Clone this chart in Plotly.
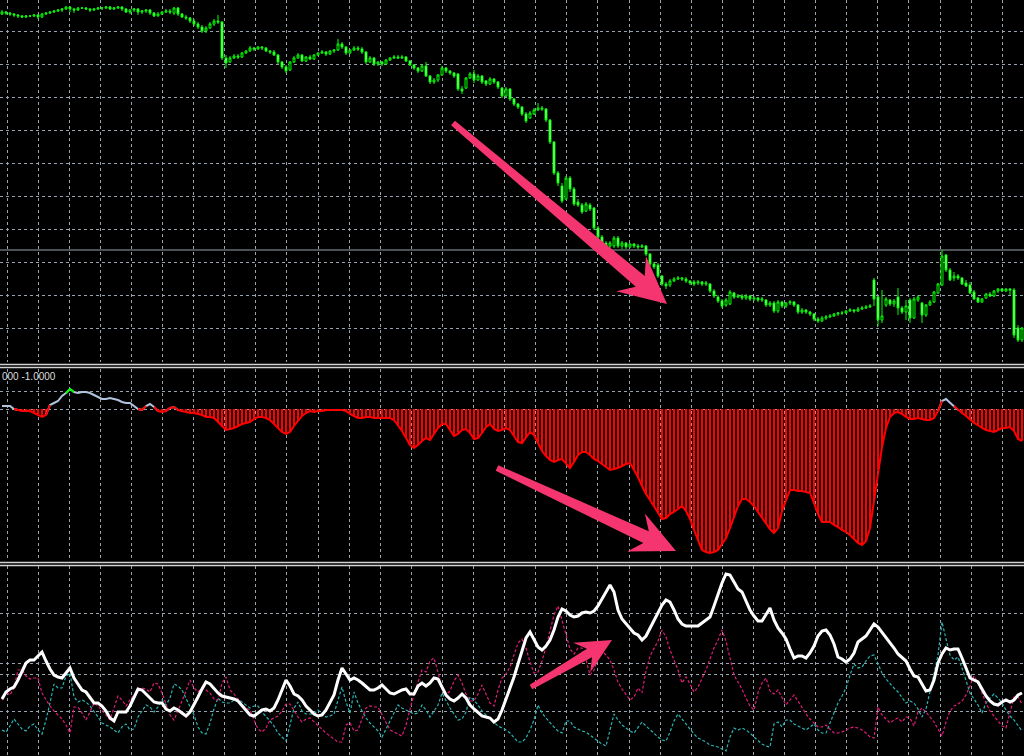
import math
import plotly.graph_objects as go

# ---------------- data ----------------
# Pane 1: candles (price units, arbitrary scale)
candle_open = [
    386, 388, 387, 386, 385, 384, 383, 384, 384, 385,
    383, 386, 387, 388, 389, 390, 391, 393, 391, 390,
    392, 392, 391, 390, 391, 392, 392, 393, 391, 392,
    393, 391, 388, 390, 391, 388, 389, 390, 387, 384,
    386, 388, 389, 387, 392, 386, 383, 382, 379, 376,
    373, 369, 372, 376, 379, 378, 342, 338, 342, 344,
    343, 347, 349, 352, 351, 353, 352, 349, 348, 345,
    338, 333, 330, 338, 342, 345, 339, 343, 341, 345,
    347, 348, 346, 349, 350, 356, 353, 347, 350, 352,
    351, 348, 338, 342, 336, 338, 336, 340, 342, 343,
    342, 343, 339, 335, 332, 329, 334, 324, 318, 320,
    325, 332, 329, 327, 326, 311, 312, 322, 326, 320,
    324, 319, 316, 321, 318, 312, 304, 311, 301, 296,
    293, 286, 282, 286, 290, 292, 291, 280, 258, 227,
    214, 201, 222, 211, 198, 195, 189, 195, 192, 172,
    163, 157, 154, 154, 162, 154, 157, 153, 156, 154,
    153, 154, 146, 136, 135, 124, 116, 115, 119, 121,
    122, 121, 119, 118, 117, 118, 116, 116, 109, 103,
    99, 95, 96, 107, 103, 104, 102, 104, 101, 102,
    100, 100, 95, 97, 89, 98, 94, 97, 98, 95,
    88, 90, 88, 86, 81, 79, 82, 83, 84, 86,
    87, 87, 89, 90, 89, 91, 92, 93, 120, 103,
    80, 95, 100, 96, 103, 92, 88, 100, 82, 100,
    97, 85, 95, 98, 107, 115, 145, 130, 122, 124,
    122, 117, 115, 108, 102, 98, 102, 106, 104, 109,
    111, 109, 111, 110, 72, 60,
]
candle_close = [
    388, 387, 386, 385, 384, 383, 384, 384, 385, 383,
    386, 387, 388, 389, 390, 391, 393, 391, 390, 392,
    392, 391, 390, 391, 392, 392, 393, 391, 392, 393,
    391, 388, 390, 391, 388, 389, 390, 387, 384, 386,
    388, 389, 388, 392, 386, 383, 382, 379, 376, 373,
    369, 372, 376, 379, 378, 342, 337, 342, 344, 343,
    347, 349, 352, 351, 353, 352, 349, 348, 345, 338,
    333, 329, 338, 342, 345, 339, 343, 341, 345, 347,
    348, 346, 349, 350, 356, 353, 347, 350, 352, 351,
    348, 338, 342, 336, 338, 336, 340, 342, 343, 342,
    343, 339, 335, 332, 329, 334, 324, 318, 320, 325,
    332, 329, 327, 324, 311, 309, 322, 326, 320, 324,
    318, 316, 321, 318, 313, 304, 311, 301, 296, 293,
    286, 279, 287, 290, 292, 291, 280, 258, 227, 217,
    199, 222, 211, 196, 195, 188, 196, 191, 172, 163,
    157, 154, 157, 162, 154, 157, 153, 156, 154, 153,
    154, 146, 136, 133, 124, 116, 114, 119, 121, 122,
    121, 119, 117, 116, 118, 116, 117, 109, 104, 99,
    94, 100, 108, 103, 104, 102, 104, 101, 102, 100,
    101, 95, 97, 89, 98, 94, 97, 98, 95, 88,
    90, 88, 86, 81, 79, 82, 83, 84, 86, 87,
    87, 89, 90, 89, 91, 92, 93, 94, 101, 80,
    84, 101, 96, 99, 92, 88, 94, 82, 101, 103,
    85, 95, 98, 108, 116, 144, 130, 120, 124, 122,
    116, 114, 107, 101, 98, 101, 106, 104, 109, 111,
    109, 111, 110, 65, 60, 72,
]
candle_high = [
    390, 389, 388, 387, 386, 385, 385, 385, 386, 386,
    387, 388, 389, 390, 391, 392, 394, 394, 392, 393,
    393, 393, 392, 392, 393, 393, 394, 394, 393, 394,
    394, 392, 391, 392, 392, 390, 391, 391, 388, 388,
    389, 391, 391, 393, 393, 387, 385, 383, 381, 378,
    375, 374, 378, 381, 385, 379, 345, 344, 346, 346,
    348, 350, 354, 353, 354, 354, 353, 350, 350, 346,
    339, 335, 339, 344, 347, 346, 344, 345, 346, 348,
    350, 349, 350, 351, 361, 358, 354, 351, 354, 354,
    353, 349, 344, 343, 339, 339, 341, 343, 345, 345,
    345, 344, 340, 336, 333, 336, 338, 325, 322, 326,
    334, 333, 330, 328, 327, 314, 323, 328, 330, 326,
    325, 320, 323, 322, 319, 313, 313, 312, 302, 297,
    294, 288, 289, 292, 297, 294, 292, 281, 259, 229,
    217, 224, 224, 213, 201, 197, 198, 197, 193, 174,
    165, 159, 159, 164, 164, 159, 158, 157, 157, 156,
    156, 155, 147, 138, 137, 125, 118, 121, 123, 124,
    123, 123, 120, 120, 120, 119, 119, 117, 111, 105,
    101, 102, 110, 108, 106, 106, 106, 105, 104, 103,
    103, 101, 99, 99, 100, 99, 98, 100, 99, 96,
    92, 91, 89, 87, 83, 84, 85, 86, 87, 88,
    89, 90, 92, 91, 93, 94, 95, 96, 122, 104,
    110, 103, 101, 101, 112, 94, 100, 102, 103, 105,
    98, 96, 100, 109, 117, 150, 146, 132, 128, 126,
    123, 120, 118, 110, 103, 102, 107, 108, 110, 112,
    112, 112, 112, 112, 75, 73,
]
candle_low = [
    385, 385, 384, 383, 382, 382, 382, 383, 383, 381,
    382, 385, 386, 387, 388, 388, 390, 388, 387, 389,
    391, 390, 388, 389, 390, 390, 391, 390, 390, 391,
    389, 387, 386, 388, 385, 386, 387, 385, 383, 384,
    385, 387, 386, 385, 384, 382, 380, 377, 374, 371,
    367, 367, 371, 374, 376, 340, 332, 337, 341, 341,
    342, 346, 348, 349, 350, 350, 348, 346, 344, 336,
    331, 327, 329, 337, 341, 338, 338, 340, 340, 344,
    346, 344, 345, 347, 349, 351, 345, 346, 349, 349,
    346, 336, 337, 334, 334, 334, 335, 339, 341, 341,
    341, 338, 334, 330, 327, 328, 323, 316, 316, 318,
    324, 327, 325, 322, 309, 306, 311, 321, 317, 319,
    316, 314, 315, 316, 311, 302, 303, 299, 294, 291,
    284, 277, 281, 285, 289, 289, 278, 256, 225, 214,
    197, 200, 208, 194, 193, 186, 188, 189, 170, 161,
    155, 152, 152, 152, 152, 151, 151, 152, 152, 151,
    152, 144, 134, 131, 122, 114, 111, 113, 118, 120,
    119, 117, 115, 114, 115, 114, 114, 107, 102, 97,
    92, 93, 95, 101, 102, 100, 100, 99, 99, 98,
    98, 93, 93, 87, 87, 92, 92, 95, 93, 86,
    86, 86, 84, 79, 77, 78, 80, 82, 83, 84,
    85, 86, 88, 87, 88, 90, 91, 92, 94, 74,
    77, 93, 94, 93, 85, 86, 80, 77, 81, 98,
    77, 83, 94, 97, 106, 114, 128, 119, 119, 120,
    115, 113, 106, 100, 97, 97, 101, 103, 103, 107,
    108, 108, 105, 62, 58, 58,
]
price_level = 150                      # solid horizontal price line

# Pane 2: oscillator histogram
osc_values = [
    3, 3, 3, 0, -1, -2, -2, -2, -4, -6,
    -8, -6, 4, 6, 8, 13, 16, 20, 17, 16,
    17, 17, 16, 14, 12, 10, 10, 11, 10, 9,
    7, 6, 6, 3, 0, -1, 3, 5, 2, -2,
    -3, -2, 1, 2, -1, -2, -3, -4, -4, -5,
    -6, -8, -8, -9, -13, -18, -21, -20, -19, -17,
    -15, -14, -13, -10, -8, -8, -9, -11, -15, -19,
    -23, -25, -23, -17, -12, -7, -4, -2, -3, -2,
    -2, -1, -1, -1, -1, -1, -2, -5, -7, -9,
    -9, -8, -8, -9, -9, -9, -9, -9, -11, -16,
    -22, -29, -36, -39, -36, -32, -29, -31, -25, -19,
    -15, -15, -21, -27, -25, -21, -20, -24, -30, -29,
    -24, -18, -15, -20, -22, -21, -19, -21, -27, -33,
    -34, -29, -23, -26, -34, -42, -47, -51, -53, -51,
    -50, -54, -59, -53, -46, -43, -43, -46, -50, -52,
    -55, -58, -61, -60, -59, -57, -55, -54, -61, -68,
    -77, -85, -91, -97, -103, -110, -109, -105, -103, -100,
    -97, -102, -110, -121, -132, -141, -143, -144, -143, -141,
    -135, -129, -119, -109, -97, -90, -90, -93, -97, -103,
    -109, -114, -120, -124, -119, -102, -91, -81, -81, -82,
    -82, -83, -84, -94, -105, -113, -113, -113, -116, -118,
    -121, -123, -126, -130, -134, -136, -132, -119, -91, -61,
    -38, -19, -8, -4, -3, -5, -8, -10, -10, -9,
    -10, -11, -11, -9, -2, 8, 10, 6, 3, -1,
    -4, -7, -11, -14, -16, -19, -21, -22, -23, -21,
    -19, -19, -18, -22, -30, -32,
]
osc_upper_level = 18
osc_label = "000 -1.0000"

# Pane 3: three oscillator lines
main_line = [
    57, 64, 67, 69, 76, 84, 93, 96, 96, 100,
    104, 95, 87, 81, 79, 78, 83, 88, 78, 72,
    66, 64, 58, 53, 53, 50, 45, 38, 35, 44,
    44, 44, 50, 58, 67, 66, 62, 58, 54, 53,
    53, 47, 45, 48, 46, 43, 40, 44, 51, 59,
    67, 74, 72, 67, 63, 60, 59, 58, 57, 55,
    50, 45, 41, 40, 43, 46, 47, 45, 48, 56,
    66, 76, 70, 62, 60, 56, 50, 46, 42, 40,
    41, 46, 53, 61, 76, 88, 82, 76, 78, 76,
    73, 69, 66, 66, 68, 71, 67, 63, 62, 64,
    66, 67, 62, 62, 70, 73, 70, 73, 78, 77,
    69, 61, 57, 55, 58, 62, 58, 51, 47, 43,
    40, 39, 38, 34, 37, 46, 56, 68, 79, 92,
    106, 118, 124, 116, 109, 106, 110, 116, 126, 139,
    147, 145, 141, 139, 140, 143, 144, 143, 145, 150,
    157, 163, 171, 164, 146, 137, 132, 127, 123, 121,
    116, 120, 128, 135, 143, 151, 156, 154, 146, 137,
    132, 130, 130, 130, 130, 133, 136, 139, 150, 162,
    173, 182, 181, 174, 167, 164, 155, 146, 140, 135,
    135, 141, 148, 136, 128, 123, 117, 107, 98, 100,
    100, 98, 103, 110, 120, 125, 126, 121, 112, 99,
    97, 94, 97, 103, 114, 117, 120, 126, 132, 129,
    124, 119, 113, 108, 102, 98, 95, 87, 80, 79,
    72, 65, 66, 76, 93, 102, 108, 106, 107, 107,
    98, 88, 78, 76, 74, 67, 60, 55, 52, 51,
    54, 56, 54, 56, 61, 63,
]
magenta_line = [
    56, 64, 61, 68, 86, 86, 80, 77, 78, 78,
    63, 56, 50, 45, 41, 37, 31, 23, 49, 49,
    43, 36, 44, 53, 50, 46, 41, 36, 49, 60,
    56, 50, 56, 61, 64, 68, 67, 64, 73, 72,
    63, 52, 41, 36, 45, 55, 65, 76, 68, 64,
    68, 66, 63, 57, 56, 73, 79, 66, 62, 57,
    51, 48, 46, 36, 27, 24, 28, 36, 38, 40,
    45, 52, 52, 45, 39, 34, 37, 38, 34, 30,
    26, 23, 20, 17, 14, 14, 31, 33, 25, 26,
    36, 48, 50, 49, 49, 41, 33, 26, 24, 22,
    20, 31, 47, 62, 74, 86, 84, 95, 98, 83,
    69, 61, 65, 75, 81, 73, 62, 55, 55, 62,
    71, 62, 53, 50, 66, 78, 82, 89, 101, 113,
    117, 108, 94, 83, 84, 95, 109, 124, 141, 150,
    136, 122, 107, 102, 108, 108, 96, 81, 86, 98,
    105, 101, 96, 86, 74, 67, 62, 56, 59, 68,
    63, 85, 100, 108, 115, 126, 119, 106, 96, 86,
    73, 79, 72, 64, 69, 77, 86, 97, 108, 116,
    126, 115, 97, 81, 74, 67, 58, 50, 46, 63,
    73, 78, 65, 62, 66, 59, 51, 56, 61, 55,
    48, 42, 37, 33, 29, 29, 31, 27, 23, 23,
    24, 26, 28, 29, 28, 26, 23, 19, 18, 49,
    41, 37, 33, 36, 38, 34, 39, 38, 30, 44,
    48, 44, 39, 34, 27, 20, 34, 45, 50, 52,
    55, 61, 70, 80, 73, 62, 53, 45, 40, 35,
    30, 28, 43, 59, 59, 52,
]
teal_line = [
    26, 24, 30, 37, 32, 27, 25, 30, 32, 26,
    22, 36, 53, 72, 68, 68, 80, 83, 59, 54,
    56, 54, 50, 45, 39, 33, 31, 29, 26, 23,
    29, 32, 26, 27, 39, 45, 51, 49, 44, 49,
    56, 51, 58, 72, 70, 66, 58, 50, 41, 29,
    23, 22, 33, 47, 58, 54, 53, 53, 56, 57,
    54, 51, 48, 50, 50, 44, 40, 35, 30, 23,
    19, 15, 31, 48, 54, 45, 42, 42, 42, 46,
    42, 39, 40, 42, 56, 69, 54, 43, 64, 53,
    45, 38, 33, 29, 25, 19, 27, 35, 44, 51,
    48, 46, 44, 42, 43, 51, 46, 39, 45, 51,
    63, 55, 48, 42, 36, 37, 44, 59, 56, 51,
    45, 41, 37, 34, 30, 28, 26, 23, 18, 14,
    14, 18, 26, 36, 51, 43, 38, 33, 29, 25,
    23, 35, 35, 29, 27, 25, 24, 21, 18, 15,
    12, 10, 26, 42, 36, 31, 28, 25, 23, 28,
    34, 30, 26, 23, 19, 16, 15, 24, 35, 42,
    37, 31, 26, 22, 18, 16, 14, 11, 10, 9,
    7, 5, 19, 28, 26, 28, 26, 23, 19, 15,
    12, 10, 9, 32, 34, 29, 36, 36, 32, 30,
    28, 26, 29, 32, 26, 23, 23, 33, 45, 53,
    60, 68, 81, 92, 88, 89, 95, 100, 101, 91,
    83, 77, 72, 68, 64, 59, 53, 55, 53, 47,
    39, 47, 63, 82, 101, 134, 117, 101, 96, 99,
    88, 75, 63, 57, 51, 43, 53, 58, 62, 58,
    53, 46, 40, 36, 31, 25,
]

# grid levels per pane
price_grid = [369, 336, 303, 270, 237, 204, 171, 138, 105, 72]
osc_grid = [18, 0]
lines_grid = [143, 93, 82, 45]

# ---------------- styling ----------------
W, H = 1024, 756
BG = "#000000"
GRID = "#98a2ad"
GRID_DASH = "3px,3px"
CANDLE = "#00ff00"
CANDLE_LIGHT = "#b4f5b4"
RED = "#ff0000"
SILVER = "#b0c4de"
LIME = "#00ff00"
MAGENTA = "#e01c78"
TEAL = "#2ab4b4"
ARROW = "#f5356f"
SEP = "#d2d2d2"


def py(p):
    return 1 - p / H


n = len(candle_close)
idx = list(range(n))
x_range = [-0.5, n - 0.5]
px_per_bar = W / n
grid_x = [((7 + 31.1 * k) / px_per_bar) - 0.5 for k in range(34)]


def seg(vals, cond):
    out = []
    for i, v in enumerate(vals):
        keep = cond(v) or (i > 0 and cond(vals[i - 1])) or (i < len(vals) - 1 and cond(vals[i + 1]))
        out.append(v if keep else None)
    return out


fig = go.Figure()

# pane 1
fig.add_trace(go.Candlestick(
    x=idx, open=candle_open, high=candle_high, low=candle_low, close=candle_close,
    increasing=dict(line=dict(color=CANDLE, width=1), fillcolor=BG),
    decreasing=dict(line=dict(color=CANDLE, width=1), fillcolor=CANDLE_LIGHT),
    whiskerwidth=0, xaxis="x", yaxis="y", hoverinfo="skip", showlegend=False,
))

# pane 2
neg_bars = [v if v < 0 else None for v in osc_values]
fig.add_trace(go.Bar(x=idx, y=neg_bars, width=0.55, marker=dict(color=RED, line=dict(width=0)),
                     xaxis="x2", yaxis="y2", hoverinfo="skip"))
fig.add_trace(go.Scatter(x=idx, y=seg(osc_values, lambda v: v >= 0), mode="lines",
                         line=dict(color=SILVER, width=2), xaxis="x2", yaxis="y2", hoverinfo="skip"))
fig.add_trace(go.Scatter(x=idx, y=seg(osc_values, lambda v: v < 0), mode="lines",
                         line=dict(color=RED, width=2), xaxis="x2", yaxis="y2", hoverinfo="skip"))
fig.add_trace(go.Scatter(x=idx, y=seg(osc_values, lambda v: v > osc_upper_level), mode="lines",
                         line=dict(color=LIME, width=2), xaxis="x2", yaxis="y2", hoverinfo="skip"))

# pane 3
fig.add_trace(go.Scatter(x=idx, y=teal_line, mode="lines",
                         line=dict(color=TEAL, width=1.2, dash="3px,2px"), xaxis="x3", yaxis="y3", hoverinfo="skip"))
fig.add_trace(go.Scatter(x=idx, y=magenta_line, mode="lines",
                         line=dict(color=MAGENTA, width=1.2, dash="3px,2px"), xaxis="x3", yaxis="y3", hoverinfo="skip"))
fig.add_trace(go.Scatter(x=idx, y=main_line, mode="lines",
                         line=dict(color="#ffffff", width=3), xaxis="x3", yaxis="y3", hoverinfo="skip"))

xcommon = dict(range=x_range, showticklabels=False, ticks="", showline=False, zeroline=False,
               showgrid=True, gridcolor=GRID, griddash=GRID_DASH, gridwidth=1,
               tickmode="array", tickvals=grid_x, fixedrange=True)
ycommon = dict(showticklabels=False, ticks="", showline=False, zeroline=False,
               showgrid=True, gridcolor=GRID, griddash=GRID_DASH, gridwidth=1,
               tickmode="array", fixedrange=True)

fig.update_layout(
    width=W, height=H, margin=dict(l=0, r=0, t=0, b=0),
    paper_bgcolor=BG, plot_bgcolor=BG, showlegend=False,
    xaxis=dict(**xcommon, domain=[0, 1], anchor="y", rangeslider=dict(visible=False)),
    xaxis2=dict(**xcommon, domain=[0, 1], anchor="y2"),
    xaxis3=dict(**xcommon, domain=[0, 1], anchor="y3"),
    yaxis=dict(**ycommon, domain=[py(362), 1], range=[38, 400], tickvals=price_grid, anchor="x"),
    yaxis2=dict(**ycommon, domain=[py(561), py(369)], range=[-152, 40], tickvals=osc_grid, anchor="x2"),
    yaxis3=dict(**ycommon, domain=[0, py(566)], range=[0, 190], tickvals=lines_grid, anchor="x3"),
)

shapes = []
# price level line in pane 1
shapes.append(dict(type="line", xref="x domain", yref="y", x0=0, x1=1, y0=price_level, y1=price_level,
                   line=dict(color="#9aa4ae", width=1), layer="below"))
# pane separators (double lines)
for p in (364.5, 367.5, 562.5, 565.5):
    shapes.append(dict(type="line", xref="paper", yref="paper", x0=0, x1=1, y0=py(p), y1=py(p),
                       line=dict(color=SEP, width=1.3)))

# annotation arrows (pixel geometry)
arrows = [
    dict(start=(453, 123), tip=(667, 304), w0=6, w1=14, notch=35, head=47, half=23),
    dict(start=(497, 468), tip=(676, 551), w0=6, w1=13, notch=33, head=44, half=21),
    dict(start=(531, 687), tip=(612, 640), w0=5, w1=10, notch=26, head=35, half=17),
]
for a in arrows:
    (x0, y0), (x1, y1) = a["start"], a["tip"]
    L = math.hypot(x1 - x0, y1 - y0)
    ux, uy = (x1 - x0) / L, (y1 - y0) / L
    nx, ny = -uy, ux
    pts = [
        (x0 + nx * a["w0"] / 2, y0 + ny * a["w0"] / 2),
        (x1 - ux * a["notch"] + nx * a["w1"] / 2, y1 - uy * a["notch"] + ny * a["w1"] / 2),
        (x1 - ux * a["head"] + nx * a["half"], y1 - uy * a["head"] + ny * a["half"]),
        (x1, y1),
        (x1 - ux * a["head"] - nx * a["half"], y1 - uy * a["head"] - ny * a["half"]),
        (x1 - ux * a["notch"] - nx * a["w1"] / 2, y1 - uy * a["notch"] - ny * a["w1"] / 2),
        (x0 - nx * a["w0"] / 2, y0 - ny * a["w0"] / 2),
    ]
    path = "M " + " L ".join(f"{px / W:.5f},{py(pp):.5f}" for px, pp in pts) + " Z"
    shapes.append(dict(type="path", xref="paper", yref="paper", path=path,
                       fillcolor=ARROW, line=dict(width=0), layer="above"))

fig.update_layout(shapes=shapes)

fig.add_annotation(text=osc_label, xref="paper", yref="paper", x=0, y=py(376.5),
                   xanchor="left", yanchor="middle", showarrow=False,
                   font=dict(family="Liberation Sans", size=10, color="#dcdcdc"))

fig.write_html("out.html", config={"displayModeBar": False},
               post_script="document.body.style.margin='0px';document.documentElement.style.overflow='hidden';")
